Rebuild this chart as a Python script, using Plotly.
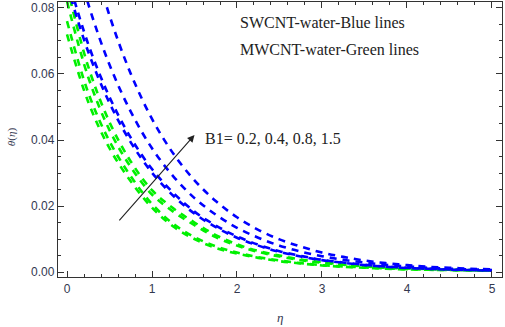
import plotly.graph_objects as go

eta = [0.0, 0.25, 0.5, 0.75, 1.0, 1.25, 1.5, 1.75, 2.0, 2.25, 2.5,
       2.75, 3.0, 3.25, 3.5, 3.75, 4.0, 4.25, 4.5, 4.75, 5.0]

# SWCNT-water (blue), B1 = 0.2, 0.4, 0.8, 1.5
swcnt_b02 = [0.0870, 0.0667, 0.0512, 0.0393, 0.0301, 0.0231, 0.0177, 0.0136, 0.0104, 0.0080, 0.0061,
             0.0047, 0.0036, 0.0028, 0.0021, 0.0016, 0.0012, 0.0010, 0.0007, 0.0006, 0.0004]
swcnt_b04 = [0.0900, 0.0690, 0.0530, 0.0407, 0.0312, 0.0240, 0.0183, 0.0141, 0.0108, 0.0083, 0.0063,
             0.0049, 0.0037, 0.0029, 0.0022, 0.0017, 0.0013, 0.0010, 0.0008, 0.0006, 0.0005]
swcnt_b08 = [0.1050, 0.0812, 0.0628, 0.0486, 0.0375, 0.0290, 0.0224, 0.0174, 0.0134, 0.0104, 0.0080,
             0.0062, 0.0048, 0.0037, 0.0029, 0.0022, 0.0017, 0.0013, 0.0010, 0.0008, 0.0006]
swcnt_b15 = [0.1300, 0.1005, 0.0777, 0.0601, 0.0464, 0.0359, 0.0278, 0.0215, 0.0166, 0.0128, 0.0099,
             0.0077, 0.0059, 0.0046, 0.0035, 0.0027, 0.0021, 0.0016, 0.0013, 0.0010, 0.0008]

# MWCNT-water (green), B1 = 0.2, 0.4, 0.8, 1.5
mwcnt_b02 = [0.0720, 0.0515, 0.0375, 0.0275, 0.0195, 0.0138, 0.0100, 0.0073, 0.0056, 0.0043, 0.0033,
             0.0026, 0.0020, 0.0016, 0.0013, 0.0010, 0.0008, 0.0007, 0.0006, 0.0005, 0.0004]
mwcnt_b04 = [0.0760, 0.0543, 0.0396, 0.0290, 0.0206, 0.0146, 0.0106, 0.0078, 0.0059, 0.0045, 0.0035,
             0.0027, 0.0021, 0.0017, 0.0014, 0.0011, 0.0009, 0.0007, 0.0006, 0.0005, 0.0004]
mwcnt_b08 = [0.0820, 0.0590, 0.0430, 0.0318, 0.0235, 0.0183, 0.0142, 0.0106, 0.0080, 0.0061, 0.0047,
             0.0036, 0.0028, 0.0022, 0.0017, 0.0013, 0.0011, 0.0009, 0.0007, 0.0006, 0.0005]
mwcnt_b15 = [0.0865, 0.0622, 0.0454, 0.0335, 0.0248, 0.0193, 0.0150, 0.0112, 0.0084, 0.0064, 0.0050,
             0.0038, 0.0030, 0.0023, 0.0018, 0.0014, 0.0012, 0.0010, 0.0007, 0.0006, 0.0005]

x_ticks = [0, 1, 2, 3, 4, 5]
y_ticks = [0.00, 0.02, 0.04, 0.06, 0.08]
y_tick_labels = ["0.00", "0.02", "0.04", "0.06", "0.08"]

BLUE = "rgb(0,0,255)"
GREEN = "rgb(0,240,0)"

fig = go.Figure()
for ys in [mwcnt_b02, mwcnt_b04, mwcnt_b08, mwcnt_b15]:
    fig.add_trace(go.Scatter(x=eta, y=ys, mode="lines", line_shape="spline",
                             line=dict(color=GREEN, width=2.6, dash="7px,6px"),
                             showlegend=False, hoverinfo="skip"))
for ys in [swcnt_b02, swcnt_b04, swcnt_b08, swcnt_b15]:
    fig.add_trace(go.Scatter(x=eta, y=ys, mode="lines", line_shape="spline",
                             line=dict(color=BLUE, width=2.6, dash="7px,6px"),
                             showlegend=False, hoverinfo="skip"))

tickfont = dict(family="Liberation Sans, Arial, sans-serif", size=12, color="#33384f")
axis_common = dict(showline=True, linecolor="#333", linewidth=1.3, mirror="ticks",
                   ticks="inside", ticklen=6, tickwidth=1.2, tickcolor="#333",
                   showgrid=False, zeroline=False, tickfont=tickfont)

fig.update_xaxes(range=[-0.106, 5.118], tickvals=x_ticks,
                 minor=dict(dtick=0.2, tick0=0, ticks="inside", ticklen=3, tickcolor="#333", tickwidth=1),
                 **axis_common)
fig.update_yaxes(range=[-0.0015, 0.0818], tickvals=y_ticks, ticktext=y_tick_labels,
                 minor=dict(dtick=0.005, tick0=0, ticks="inside", ticklen=3, tickcolor="#333", tickwidth=1),
                 **axis_common)

serif = "Liberation Serif, Times New Roman, serif"
fig.add_annotation(x=0.405, y=0.925, xref="paper", yref="paper", xanchor="left", yanchor="middle",
                   text="SWCNT-water-Blue lines", showarrow=False,
                   font=dict(family=serif, size=16, color="#222"))
fig.add_annotation(x=0.405, y=0.828, xref="paper", yref="paper", xanchor="left", yanchor="middle",
                   text="MWCNT-water-Green lines", showarrow=False,
                   font=dict(family=serif, size=16, color="#222"))
fig.add_annotation(x=1.6, y=0.0405, xref="x", yref="y", xanchor="left", yanchor="middle",
                   text="B1= 0.2, 0.4, 0.8, 1.5", showarrow=False,
                   font=dict(family=serif, size=16, color="#222"))
fig.add_annotation(x=1.5, y=0.0415, ax=0.6, ay=0.0152, xref="x", yref="y", axref="x", ayref="y",
                   text="", showarrow=True, arrowhead=2, arrowsize=1.3, arrowwidth=1.1,
                   arrowcolor="#222", standoff=0, startstandoff=0)
fig.add_annotation(x=-0.105, y=0.51, xref="paper", yref="paper", xanchor="center", yanchor="middle",
                   text="<i>θ</i>(<i>η</i>)", textangle=-90, showarrow=False,
                   font=dict(family=serif, size=11, color="#33384f"))
fig.add_annotation(x=0.5, y=-0.149, xref="paper", yref="paper", xanchor="center", yanchor="middle",
                   text="<i>η</i>", showarrow=False,
                   font=dict(family=serif, size=13, color="#33384f"))

fig.update_layout(width=505, height=327, margin=dict(l=58, r=3, t=2, b=50),
                  plot_bgcolor="white", paper_bgcolor="white")

fig.write_html("out.html", config={"displayModeBar": False},
               post_script="document.body.style.margin='0';")
